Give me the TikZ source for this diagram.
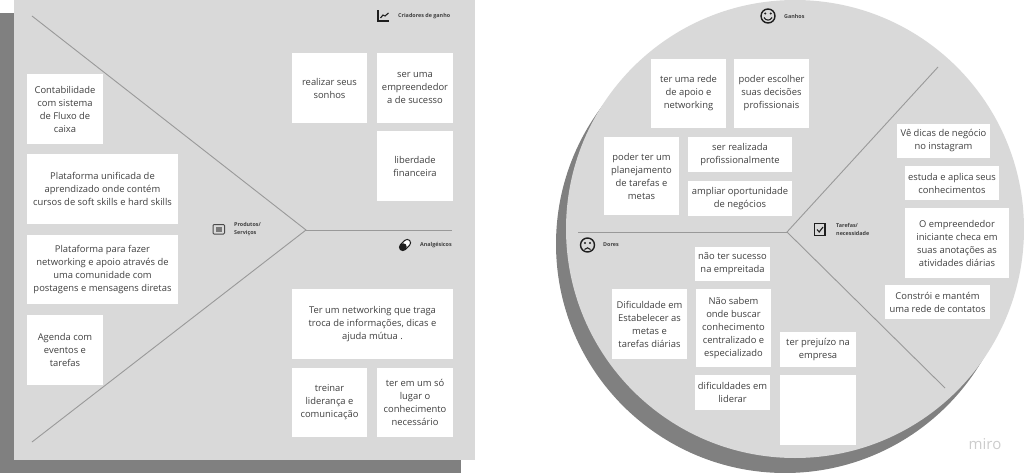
\documentclass[tikz,border=0pt]{standalone}
\usepackage{fontspec}
\setmainfont{Open Sans}
\definecolor{panelgray}{HTML}{D9D9D9}
\definecolor{backgray}{HTML}{808080}
\definecolor{ink}{HTML}{404040}
\definecolor{rulegray}{HTML}{999999}
\definecolor{icon}{HTML}{1E1E1E}
\tikzset{
  card/.style={fill=white,draw=none,inner sep=0pt,align=center,text=ink,font=\fontsize{9.4}{13}\selectfont},
  tag/.style={inner sep=0pt,align=left,anchor=west,text=icon!85,font=\fontsize{5.4}{8}\selectfont\bfseries},
  spoke/.style={draw=rulegray,line width=0.9pt},
  glyph/.style={draw=icon,line width=1.1pt,fill=none}
}
\newcommand{\card}[6]{%
  \pgfmathsetmacro{\cw}{#4-#2}\pgfmathsetmacro{\ch}{#5-#3}%
  \pgfmathsetmacro{\cx}{(#2+#4)/2}\pgfmathsetmacro{\cy}{(#3+#5)/2}%
  \node[card,minimum width=\cw pt,minimum height=\ch pt] (#1) at (\cx,\cy) {#6};}
\begin{document}
\begin{tikzpicture}[x=1pt,y=-1pt]
\useasboundingbox (0,0) rectangle (1024,473);
\clip (0,0) rectangle (1024,473);
% square
\fill[backgray] (0,13) rectangle (461,473);
\fill[panelgray] (14,0) rectangle (475,460);
% circle
\fill[backgray] (785,244) circle[radius=229];
\fill[panelgray] (795,229) circle[radius=229];
% spokes
\coordinate (la) at (32,16);
\coordinate (lb) at (32,442);
\coordinate (lc) at (306,230);
\coordinate (ld) at (452,230);
\draw[spoke] (la) -- (lc) -- (lb);
\draw[spoke] (lc) -- (ld);
\coordinate (ra) at (938,67);
\coordinate (rb) at (945,388);
\coordinate (rc) at (787,232);
\coordinate (rd) at (578,232);
\draw[spoke] (ra) -- (rc) -- (rb);
\draw[spoke] (rc) -- (rd);
% left cards
\card{a1}{27}{74}{103}{144}{Contabilidade\\com sistema\\de Fluxo de\\caixa}
\card{a2}{27}{154}{178}{224}{Plataforma unificada de\\aprendizado onde contém\\cursos de soft skills e hard skills}
\card{a3}{27}{235}{178}{304}{Plataforma para fazer\\networking e apoio através de\\uma comunidade com\\postagens e mensagens diretas}
\card{a4}{27}{315}{103}{385}{Agenda com\\eventos e\\tarefas}
\card{b1}{292}{53}{367}{123}{realizar seus\\sonhos}
\card{b2}{377}{53}{453}{123}{ser uma\\empreendedor\\a de sucesso}
\card{b3}{377}{131}{453}{201}{liberdade\\financeira}
\card{c1}{292}{289}{453}{359}{Ter um networking que traga\\troca de informações, dicas e\\ajuda mútua .}
\card{c2}{292}{368}{367}{437}{treinar\\liderança e\\comunicação}
\card{c3}{377}{368}{453}{437}{ter em um só\\lugar o\\conhecimento\\necessário}
% right cards
\card{d1}{651}{59}{726}{128}{ter uma rede\\de apoio e\\networking}
\card{d2}{734}{59}{809}{128}{poder escolher\\suas decisões\\profissionais}
\card{d3}{604}{137}{679}{215}{poder ter um\\planejamento\\de tarefas e\\metas}
\card{d4}{688}{137}{792}{172}{ser realizada\\profissionalmente}
\card{d5}{688}{181}{792}{216}{ampliar oportunidade\\de negócios}
\card{e1}{897}{124}{990}{158}{Vê dicas de negócio\\no instagram}
\card{e2}{905}{166}{999}{200}{estuda e aplica seus\\conhecimentos}
\card{e3}{905}{208}{1009}{278}{O empreendedor\\iniciante checa em\\suas anotações as\\atividades diárias}
\card{e4}{885}{285}{990}{319}{Constrói e mantém\\uma rede de contatos}
\card{f1}{695}{247}{770}{281}{não ter sucesso\\na empreitada}
\card{f2}{612}{289}{687}{359}{Dificuldade em\\Estabelecer as\\metas e\\tarefas diárias}
\card{f3}{696}{289}{771}{367}{Não sabem\\onde buscar\\conhecimento\\centralizado e\\especializado}
\card{f4}{780}{332}{856}{367}{ter prejuízo na\\empresa}
\card{f5}{695}{375}{770}{410}{dificuldades em\\liderar}
\card{f6}{780}{375}{856}{445}{}
% tags
\node[tag] (t1) at (398,16) {Criadores de ganho};
\node[tag] (t2) at (234,229) {Produtos/\\Serviços};
\node[tag] (t3) at (420,245) {Analgésicos};
\node[tag] (t4) at (784,16.5) {Ganhos};
\node[tag] (t5) at (836,229) {Tarefas/\\necessidade};
\node[tag] (t6) at (603,245) {Dores};
\node[inner sep=0pt,text=black!20,font=\fontsize{15}{15}\selectfont] (brand) at (985,444) {miro};
% icons
\draw[glyph] (378,10.5) -- (378,21) -- (389,21);
\draw[glyph] (380.5,18) -- (383,15) -- (385,16) -- (388.5,13);
\draw[draw=icon!80,line width=1pt,rounded corners=1pt] (213,224.5) rectangle (224.5,234);
\fill[icon!60] (215.5,227) rectangle (222,231.5);
\begin{scope}[rotate around={45:(405,245)}]
\draw[icon,line width=1pt,fill=white,rounded corners=3.4pt] (398.5,241.6) rectangle (411.5,248.4);
\fill[icon,rounded corners=3.4pt] (398.5,241.6) rectangle (406,248.4);
\end{scope}
\draw[glyph,line width=1.4pt] (768,16) circle[radius=7];
\fill[icon] (765.3,13.5) circle[radius=1.1] (770.7,13.5) circle[radius=1.1];
\draw[glyph] (764,17.5) .. controls (766,21) and (770,21) .. (772,17.5);
\draw[glyph,line width=1.3pt] (814.5,223.5) rectangle (825,235.5);
\draw[glyph] (817,229.5) -- (819.2,232) -- (823,227);
\draw[glyph,line width=1.4pt] (587.5,245) circle[radius=7];
\fill[icon] (585,243) circle[radius=1.1] (590,243) circle[radius=1.1];
\draw[glyph] (584.5,249.5) .. controls (586,247.3) and (589,247.3) .. (590.5,249.5);
\end{tikzpicture}
\end{document}
